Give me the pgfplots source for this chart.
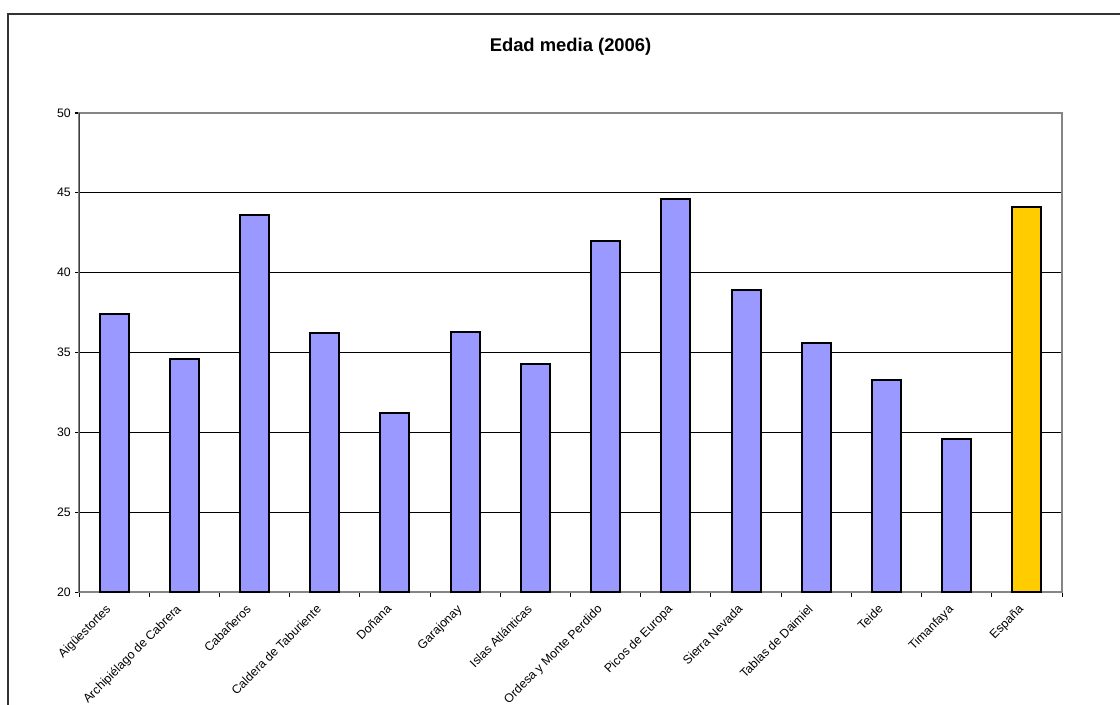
\documentclass[border=0pt]{standalone}
\usepackage{pgfplots}
\pgfplotsset{compat=1.18}
\usepackage{fontspec}
\setmainfont{Liberation Sans}
\definecolor{barblue}{HTML}{9999FF}
\definecolor{baryellow}{HTML}{FFCC00}
\definecolor{framegray}{HTML}{858585}
\begin{document}
\begin{tikzpicture}
\useasboundingbox (0,0) rectangle (840pt,528pt);
\fill[white] (0,0) rectangle (840pt,528pt);
% chart frame (left and top edges)
\draw[line width=1.5pt, black!80] (6pt,-2pt) -- (6pt,517.5pt) -- (842pt,517.5pt);
\node[font=\bfseries\fontsize{13.8}{16}\selectfont] at (427.9pt,493pt) {Edad media (2006)};
\begin{axis}[
  at={(59.25pt,84pt)}, anchor=south west,
  scale only axis, width=737.25pt, height=359.25pt,
  ymin=20, ymax=50, ytick={20,25,...,50},
  xmin=-0.5, xmax=13.5,
  xtick={0,...,13},
  xticklabels={Aigüestortes, Archipiélago de Cabrera, Cabañeros, Caldera de Taburiente, Doñana, Garajonay, Islas Atlánticas, Ordesa y Monte Perdido, Picos de Europa, Sierra Nevada, Tablas de Daimiel, Teide, Timanfaya, España},
  minor xtick={-0.5,0.5,...,13.5},
  major x tick style={draw=none},
  tick align=outside, xtick pos=bottom, ytick pos=left,
  tick style={black, line width=0.75pt},
  major tick length=3pt, minor tick length=3.5pt,
  ymajorgrids, grid style={black, line width=0.7pt},
  axis line style={framegray, line width=1.5pt},
  ticklabel style={font=\fontsize{9.2}{10}\selectfont},
  /pgf/number format/assume math mode=true,
  yticklabel style={inner sep=1pt, xshift=-2pt},
  xticklabel style={xshift=-6.8pt, yshift=-4.2pt, rotate=45, anchor=north east, inner sep=1pt},
  ybar, bar width=21.75pt,
]
\addplot[bar shift=0pt, fill=barblue, draw=black, line width=1.5pt] coordinates {
  (0,37.4) (1,34.6) (2,43.6) (3,36.2) (4,31.2) (5,36.3) (6,34.3)
  (7,42.0) (8,44.6) (9,38.9) (10,35.6) (11,33.3) (12,29.6)};
\addplot[bar shift=0pt, fill=baryellow, draw=black, line width=1.5pt] coordinates {
  (13,44.1)};
\draw[black!75, line width=1.5pt] (rel axis cs:0,0) -- (rel axis cs:0,1);
\end{axis}
\end{tikzpicture}
\end{document}
